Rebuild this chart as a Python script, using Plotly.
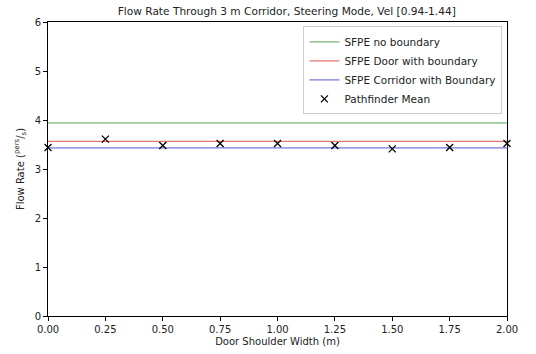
import plotly.graph_objects as go

door_width = [0.0, 0.25, 0.5, 0.75, 1.0, 1.25, 1.5, 1.75, 2.0]
pathfinder_mean = [3.44, 3.61, 3.48, 3.52, 3.52, 3.48, 3.41, 3.44, 3.52]
sfpe_no_boundary = 3.94
sfpe_door_boundary = 3.565
sfpe_corridor_boundary = 3.43
x_range = [0.0, 2.0]
x_ticks = [0.0, 0.25, 0.5, 0.75, 1.0, 1.25, 1.5, 1.75, 2.0]
x_tick_labels = ["0.00", "0.25", "0.50", "0.75", "1.00", "1.25", "1.50", "1.75", "2.00"]
y_ticks = [0, 1, 2, 3, 4, 5, 6]

fig = go.Figure()
fig.add_trace(go.Scatter(x=x_range, y=[sfpe_no_boundary] * 2, mode="lines",
                         line=dict(color="#55a055", width=1), name="SFPE no boundary"))
fig.add_trace(go.Scatter(x=x_range, y=[sfpe_door_boundary] * 2, mode="lines",
                         line=dict(color="#e05555", width=1), name="SFPE Door with boundary"))
fig.add_trace(go.Scatter(x=x_range, y=[sfpe_corridor_boundary] * 2, mode="lines",
                         line=dict(color="#5555d0", width=1), name="SFPE Corridor with Boundary"))
fig.add_trace(go.Scatter(x=door_width, y=pathfinder_mean, mode="markers",
                         marker=dict(symbol="x-thin", size=7, line=dict(color="black", width=1.3), color="black"),
                         name="Pathfinder Mean", cliponaxis=False))

axis_common = dict(showline=True, linecolor="black", linewidth=1, mirror=True,
                   ticks="outside", ticklen=4, tickcolor="black", showgrid=False,
                   zeroline=False, automargin=False, tickfont=dict(size=10, color="#222"))
fig.update_layout(
    width=536, height=354,
    margin=dict(l=48, r=29, t=22, b=38),
    paper_bgcolor="white", plot_bgcolor="white",
    font=dict(family="DejaVu Sans", color="#222"),
    title=dict(text="Flow Rate Through 3 m Corridor, Steering Mode, Vel [0.94-1.44]",
               x=0.535, xanchor="center", y=0.968, yanchor="middle", font=dict(size=10.6)),
    xaxis=dict(range=x_range, tickvals=x_ticks, ticktext=x_tick_labels,
               title=dict(text="Door Shoulder Width (m)", font=dict(size=10), standoff=3), **axis_common),
    yaxis=dict(range=[0, 6], tickvals=y_ticks,
               title=dict(text="Flow Rate (<sup>pers</sup>/<sub>s</sub>)", font=dict(size=10), standoff=8), **axis_common),
    legend=dict(x=0.99, xanchor="right", y=0.985, yanchor="top", bgcolor="rgba(255,255,255,0.9)",
                bordercolor="#ccc", borderwidth=1, font=dict(size=10.5), tracegroupgap=0,
                itemwidth=30),
    showlegend=True,
)
fig.write_html("out.html", config={"displayModeBar": False},
               post_script="document.body.style.margin='0';")
